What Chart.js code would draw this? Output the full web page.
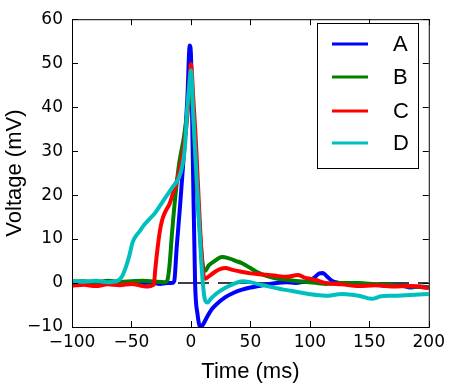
<!DOCTYPE html>
<html lang="en">
<head>
  <meta charset="UTF-8">
  <title>Voltage vs Time</title>
  <script src="https://cdn.jsdelivr.net/npm/chart.js"></script>
  <style>
    html, body { margin: 0; padding: 0; background: #fff; }
    canvas { display: block; }
  </style>
</head>
<body>
  <canvas id="chart" width="450" height="389"></canvas>

  <script>
    // series labels and colours (matplotlib classic)
    const labels = ['A', 'B', 'C', 'D'];
    const colors = ['#0000ff', '#008000', '#ff0000', '#00bfbf'];

    // A (blue)
    const timeA = [-100, -92, -85, -78, -70, -62, -55, -48, -40, -33, -26, -20, -16, -14, -12, -9, -6, -3, -1, 0, 1.5, 3.5, 5.5, 8, 10, 14, 18, 22, 29, 36, 43, 50, 57, 64, 72, 80, 88, 95, 100, 104, 108, 111, 114, 118, 125, 135, 145, 155, 165, 175, 185, 193, 200];
    const voltA = [0, 0.3, 0, 0.2, -0.1, 0.2, 0, 0.3, 0, 0.1, -0.2, 0, 0, 0.5, 8, 18, 29, 42, 54, 52, 30, 0, -7, -10, -9.5, -7.5, -5.8, -4.7, -3.2, -2.2, -1.5, -1, -0.7, -0.3, 0, 0.2, 0, 0.3, 0.6, 1.3, 2.2, 2.3, 1.6, 0.6, 0, -0.3, -0.5, -0.3, -0.7, -0.5, -1, -0.8, -1];

    // B (green)
    const timeB = [-100, -90, -80, -70, -60, -50, -40, -30, -22, -20, -18, -16, -13, -10, -6, -3, -1, 0, 2, 5, 8, 10, 12, 15, 20, 26, 32, 38, 43, 50, 57, 64, 71, 85, 100, 113, 127, 141, 155, 169, 185, 200];
    const voltB = [0.3, 0.4, 0.2, 0.5, 0.3, 0.4, 0.5, 0.3, 0.2, 0.5, 4, 11, 20, 27, 33, 39, 44, 45, 38, 22, 10, 4, 2.8, 4, 5, 5.9, 5.6, 5, 4.5, 3.4, 2.3, 1.6, 1.1, 0.6, 0.2, -0.2, 0, 0, -0.3, -0.5, -0.8, -1];

    // C (red)
    const timeC = [-100, -90, -80, -70, -60, -50, -42, -36, -32, -31, -30, -28, -26, -24, -21, -18, -15, -12, -9, -6, -3, -1, 0, 2, 4, 6, 8, 10, 12, 15, 20, 25, 29, 35, 40, 50, 57, 70, 80, 90, 95, 105, 113, 127, 141, 155, 169, 185, 200];
    const voltC = [-0.6, -0.4, -0.7, -0.3, -0.5, -0.2, -0.6, -0.8, -0.5, 0, 3, 8, 12, 14.5, 16.5, 18, 20.5, 23, 26.5, 31, 38, 47, 49.8, 42, 33, 22, 11, 3, 1, 1.5, 2.5, 3.2, 3.4, 3, 2.7, 2.2, 2, 1.7, 1.4, 1.8, 1.3, 0.7, 0, -0.3, -0.7, -0.5, -0.8, -0.7, -1.1];

    // D (cyan)
    const timeD = [-100, -90, -80, -70, -62, -58, -55, -52, -49, -46, -43, -40, -35, -30, -25, -20, -15, -10, -7, -5, -3, -1, 0, 2, 4, 6, 8, 10, 12, 14, 17, 21, 29, 36, 43, 50, 57, 64, 71, 78, 85, 99, 113, 127, 141, 152, 160, 169, 185, 200];
    const voltD = [0.5, 0.3, 0.5, 0.2, 0.5, 1.5, 3.4, 6, 9.3, 10.8, 11.8, 13, 14.5, 16, 18, 20, 22, 24, 27, 31, 40, 46, 48.4, 38, 28, 18, 8, 0, -4, -4.4, -3.5, -2.5, -1.1, -0.2, 0.4, 0.2, -0.3, -0.7, -1.1, -1.5, -1.8, -2.5, -2.9, -2.5, -2.9, -3.6, -3, -2.9, -2.7, -2.5];

    const times = [timeA, timeB, timeC, timeD];
    const volts = [voltA, voltB, voltC, voltD];

    const xTicks = [-100, -50, 0, 50, 100, 150, 200];
    const yTicks = [-10, 0, 10, 20, 30, 40, 50, 60];

    const datasets = labels.map((lab, i) => ({
      label: lab,
      data: times[i].map((t, k) => ({ x: t, y: volts[i][k] })),
      borderColor: colors[i],
      borderWidth: 4,
      pointRadius: 0,
      cubicInterpolationMode: 'monotone',
      fill: false,
      order: 4 - i
    }));

    // dashed zero line underneath
    datasets.push({
      label: 'zero',
      data: [{ x: -100, y: 0 }, { x: 200, y: 0 }],
      borderColor: '#000',
      borderWidth: 1.5,
      borderDash: [31, 9],
      borderDashOffset: 14,
      pointRadius: 0,
      fill: false,
      order: 10
    });

    // frame, inward ticks and boxed legend
    const framePlugin = {
      id: 'frame',
      afterDraw(chart) {
        const { ctx, chartArea: a, scales } = chart;
        ctx.save();
        ctx.strokeStyle = '#000';
        ctx.lineWidth = 1;
        ctx.strokeRect(a.left + 0.5, a.top + 0.5, a.right - a.left, a.bottom - a.top);
        ctx.beginPath();
        xTicks.forEach(v => {
          const px = Math.round(scales.x.getPixelForValue(v)) + 0.5;
          ctx.moveTo(px, a.bottom); ctx.lineTo(px, a.bottom - 6);
          ctx.moveTo(px, a.top); ctx.lineTo(px, a.top + 6);
        });
        yTicks.forEach(v => {
          const py = Math.round(scales.y.getPixelForValue(v)) + 0.5;
          ctx.moveTo(a.left, py); ctx.lineTo(a.left + 6, py);
          ctx.moveTo(a.right, py); ctx.lineTo(a.right - 6, py);
        });
        ctx.stroke();

        // legend
        ctx.fillStyle = '#fff';
        ctx.fillRect(317, 23, 101, 145);
        ctx.strokeRect(317.5, 23.5, 101, 145);
        const rows = [44, 77, 111, 143];
        ctx.font = '22px "Liberation Sans", Arial, sans-serif';
        ctx.textBaseline = 'middle';
        ctx.textAlign = 'left';
        labels.forEach((lab, i) => {
          ctx.strokeStyle = colors[i];
          ctx.lineWidth = 3;
          ctx.beginPath();
          ctx.moveTo(332, rows[i]); ctx.lineTo(368, rows[i]);
          ctx.stroke();
          ctx.fillStyle = '#000';
          ctx.fillText(lab, 393, rows[i] + 1);
        });
        ctx.restore();
      }
    };

    new Chart(document.getElementById('chart'), {
      type: 'line',
      data: { datasets },
      plugins: [framePlugin],
      options: {
        responsive: false,
        animation: false,
        layout: { padding: { top: 12, right: 20, left: 0, bottom: 0 } },
        plugins: { legend: { display: false }, tooltip: { enabled: false } },
        scales: {
          x: {
            type: 'linear', min: -100, max: 200,
            afterBuildTicks: s => { s.ticks = xTicks.map(v => ({ value: v })); },
            afterFit: s => { s.height = 62; },
            grid: { display: false, drawTicks: false },
            border: { display: false },
            ticks: {
              autoSkip: false, maxRotation: 0, padding: 5, color: '#000',
              font: { family: '"DejaVu Sans"', size: 17 },
              callback: v => (v < 0 ? '\u2212' + Math.abs(v) : String(v))
            },
            title: {
              display: true, text: 'Time (ms)', color: '#000',
              font: { family: '"Liberation Sans", Arial', size: 22 },
              padding: { top: 0, bottom: 4 }
            }
          },
          y: {
            type: 'linear', min: -10, max: 60,
            afterBuildTicks: s => { s.ticks = yTicks.map(v => ({ value: v })); },
            afterFit: s => { s.width = 72; },
            grid: { display: false, drawTicks: false },
            border: { display: false },
            ticks: {
              autoSkip: false, padding: 9, color: '#000',
              font: { family: '"DejaVu Sans"', size: 17 },
              callback: v => (v < 0 ? '\u2212' + Math.abs(v) : String(v))
            },
            title: {
              display: true, text: 'Voltage (mV)', color: '#000',
              font: { family: '"Liberation Sans", Arial', size: 22 },
              padding: { top: 2, bottom: 0 }
            }
          }
        }
      }
    });
  </script>
</body>
</html>
